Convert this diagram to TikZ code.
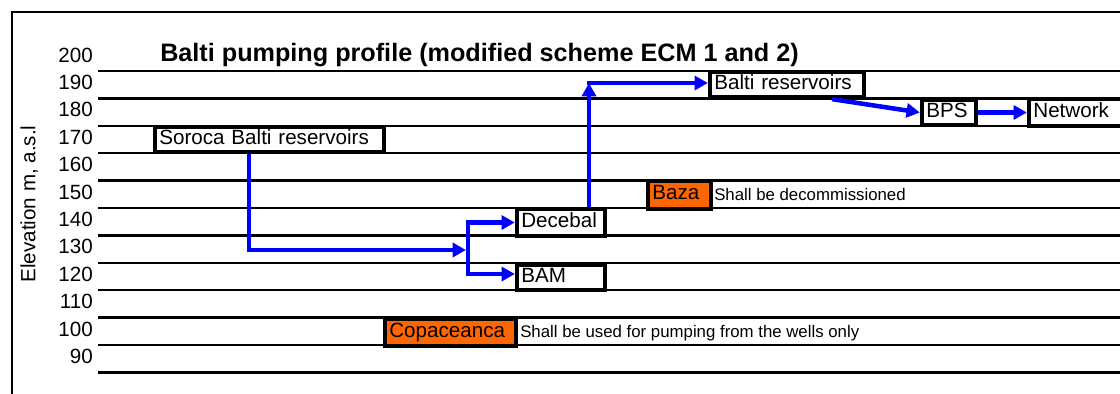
\documentclass[tikz,border=0pt]{standalone}
\usepackage{fontspec}
\setmainfont{Liberation Sans}
\usetikzlibrary{arrows.meta,calc}
\definecolor{orangefill}{HTML}{FF6600}
\begin{document}
\begin{tikzpicture}[x=0.75pt,y=-0.75pt,
  grid/.style={line width=1.8pt},
  frame/.style={line width=1.8pt},
  lbl/.style={font=\fontsize{15.45pt}{18pt}\selectfont},
  tick/.style={lbl, anchor=east, inner sep=0pt, text height=0.72em, text depth=0pt},
  stn/.style={lbl, draw=black, line width=2.9pt, fill=white, inner xsep=3.4pt,
    inner ysep=0pt, align=left, text height=0.72em, text depth=0.03em},
  disused/.style={stn, fill=orangefill},
  note/.style={font=\fontsize{12.6pt}{15pt}\selectfont, anchor=base west, inner sep=0pt},
  flow/.style={draw=blue, line width=3.4pt, line join=miter,
    -{Triangle[length=10pt,width=10.5pt]}}
]
\useasboundingbox (0,0) rectangle (1120,393);
\clip (0,0) rectangle (1120,393);

% outer frame
\draw[frame] (12,395) -- (12,12) -- (1125,12);

% elevation grid with level labels
\foreach \k in {0,...,11} {
  \draw[grid] (98,71+27.4*\k) -- (1125,71+27.4*\k);
  \pgfmathtruncatemacro\lev{200-10*\k}
  \node[tick] (lev\lev) at (93,71+27.4*\k-13.7) {\lev};
}

% axis title and heading
\node[lbl, rotate=90, inner sep=0pt, text height=0.72em, text depth=0pt] (axis) at (30.5,204) {Elevation m, a.s.l};
\node[font=\bfseries\fontsize{18.9pt}{22pt}\selectfont, anchor=base west, inner sep=0pt] (title) at (160,61)
  {Balti pumping profile (modified scheme ECM 1 and 2)};

% stations
\node[stn, text width=165.2pt, minimum height=19pt] (soroca) at (269.5,139.5) {Soroca Balti reservoirs};
\node[stn, text width=59.5pt, minimum height=20.5pt] (decebal) at (561,222.5) {Decebal};
\node[stn, text width=59.5pt, minimum height=19pt] (bam) at (561,277.5) {BAM};
\node[stn, text width=109pt, minimum height=19pt] (balti) at (787,84.5) {Balti reservoirs};
\node[stn, text width=34pt, minimum height=19pt] (bps) at (949,112.5) {BPS};
\node[stn, text width=75.2pt, minimum height=20.5pt] (network) at (1083.5,112.5) {Network};

% stations taken out of the pumping chain
\node[disused, text width=40.7pt, minimum height=21.2pt] (baza) at (679.5,195) {Baza};
\node[note] (bazanote) at (714,200.7) {Shall be decommissioned};
\node[disused, text width=91.7pt, minimum height=20.5pt] (copa) at (450.5,332.5) {Copaceanca};
\node[note] (copanote) at (520,337.3) {Shall be used for pumping from the wells only};

% flow path
\coordinate (jin) at (466,250);
\coordinate (jx) at (468,250);
\coordinate (bend) at (589,83);

\draw[flow] ($(soroca.south)+(-20.5,0)$) |- (jin);
\draw[flow] (jx) |- (decebal.west);
\draw[flow] (jx) |- ($(bam.west)+(0,-3.5)$);
\draw[flow] ($(decebal.north)+(28,0)$) -- (bend);
\draw[flow] ($(bend)+(-2.2,0)$) -- (balti.west |- bend);
\draw[flow] ($(balti.south)+(45,0)$) -- (bps.west);
\draw[flow] (bps.east) -- (network.west);
\end{tikzpicture}
\end{document}
